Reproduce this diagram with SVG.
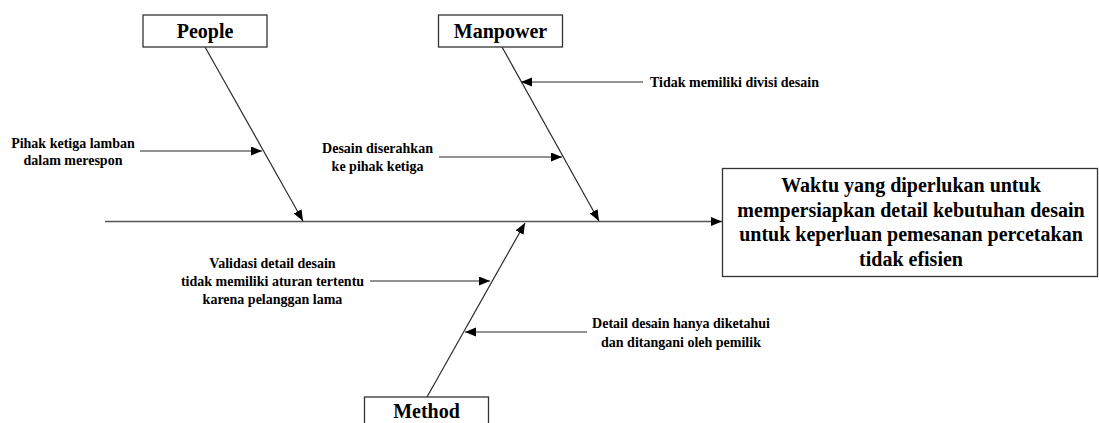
<svg xmlns="http://www.w3.org/2000/svg" width="1099" height="423" viewBox="0 0 1099 423">
  <style>
    .box { fill: #ffffff; stroke: #333333; stroke-width: 1.3; }
    text { font-family: 'Liberation Serif', 'DejaVu Serif', serif; font-weight: bold; fill: #000000; text-anchor: middle; }
    .title { font-size: 20px; }
    .label { font-size: 14px; }
    .effect { font-size: 20px; }
    .bone { stroke: #2b2b2b; stroke-width: 1.2; fill: none; marker-end: url(#head); }
    .spine { stroke: #555555; stroke-width: 1.5; fill: none; marker-end: url(#head); }
  </style>
  <defs>
    <marker id="head" markerUnits="userSpaceOnUse" markerWidth="12" markerHeight="10" refX="11" refY="4.5" orient="auto">
      <path d="M0,0 L11,4.5 L0,9 z" fill="#000000"/>
    </marker>
  </defs>
  <rect width="1099" height="423" fill="#ffffff"/>

  <!-- bones and cause arrows -->
  <g id="connectors">
    <line class="spine" x1="105" y1="221.5" x2="722" y2="221.5"/>
    <line class="bone" x1="205" y1="47" x2="303" y2="221"/>
    <line class="bone" x1="502" y1="47" x2="599" y2="221"/>
    <line class="bone" x1="427" y1="397" x2="525" y2="223"/>
    <line class="bone" x1="140" y1="151" x2="262" y2="151"/>
    <line class="bone" x1="439" y1="157" x2="562" y2="157"/>
    <line class="bone" x1="643" y1="82" x2="521" y2="82"/>
    <line class="bone" x1="370" y1="281" x2="490" y2="281"/>
    <line class="bone" x1="587" y1="332" x2="465" y2="332"/>
  </g>

  <!-- category boxes -->
  <g id="people">
    <rect class="box" x="143" y="15" width="124" height="32"/>
    <text class="title" x="205" y="38">People</text>
  </g>
  <g id="manpower">
    <rect class="box" x="438.5" y="15" width="124" height="32"/>
    <text class="title" x="500.5" y="38">Manpower</text>
  </g>
  <g id="method">
    <rect class="box" x="364.5" y="397" width="124" height="40"/>
    <text class="title" x="426.5" y="418">Method</text>
  </g>

  <!-- effect -->
  <g id="effect">
    <rect class="box" x="722.5" y="168.5" width="375" height="108"/>
    <text class="effect" x="911" y="192">Waktu yang diperlukan untuk</text>
    <text class="effect" x="911" y="216.5">mempersiapkan detail kebutuhan desain</text>
    <text class="effect" x="911" y="241">untuk keperluan pemesanan percetakan</text>
    <text class="effect" x="911" y="265.5">tidak efisien</text>
  </g>

  <!-- causes -->
  <g id="cause-pihak">
    <text class="label" x="73" y="147.5">Pihak ketiga lamban</text>
    <text class="label" x="73" y="165">dalam merespon</text>
  </g>
  <g id="cause-desain">
    <text class="label" x="377.5" y="153">Desain diserahkan</text>
    <text class="label" x="377.5" y="171">ke pihak ketiga</text>
  </g>
  <g id="cause-divisi">
    <text class="label" x="650" y="86.5" style="text-anchor:start">Tidak memiliki divisi desain</text>
  </g>
  <g id="cause-validasi">
    <text class="label" x="272.5" y="267.5">Validasi detail desain</text>
    <text class="label" x="272.5" y="286">tidak memiliki aturan tertentu</text>
    <text class="label" x="272.5" y="304">karena pelanggan lama</text>
  </g>
  <g id="cause-pemilik">
    <text class="label" x="681" y="328">Detail desain hanya diketahui</text>
    <text class="label" x="681" y="346.5">dan ditangani oleh pemilik</text>
  </g>
</svg>
